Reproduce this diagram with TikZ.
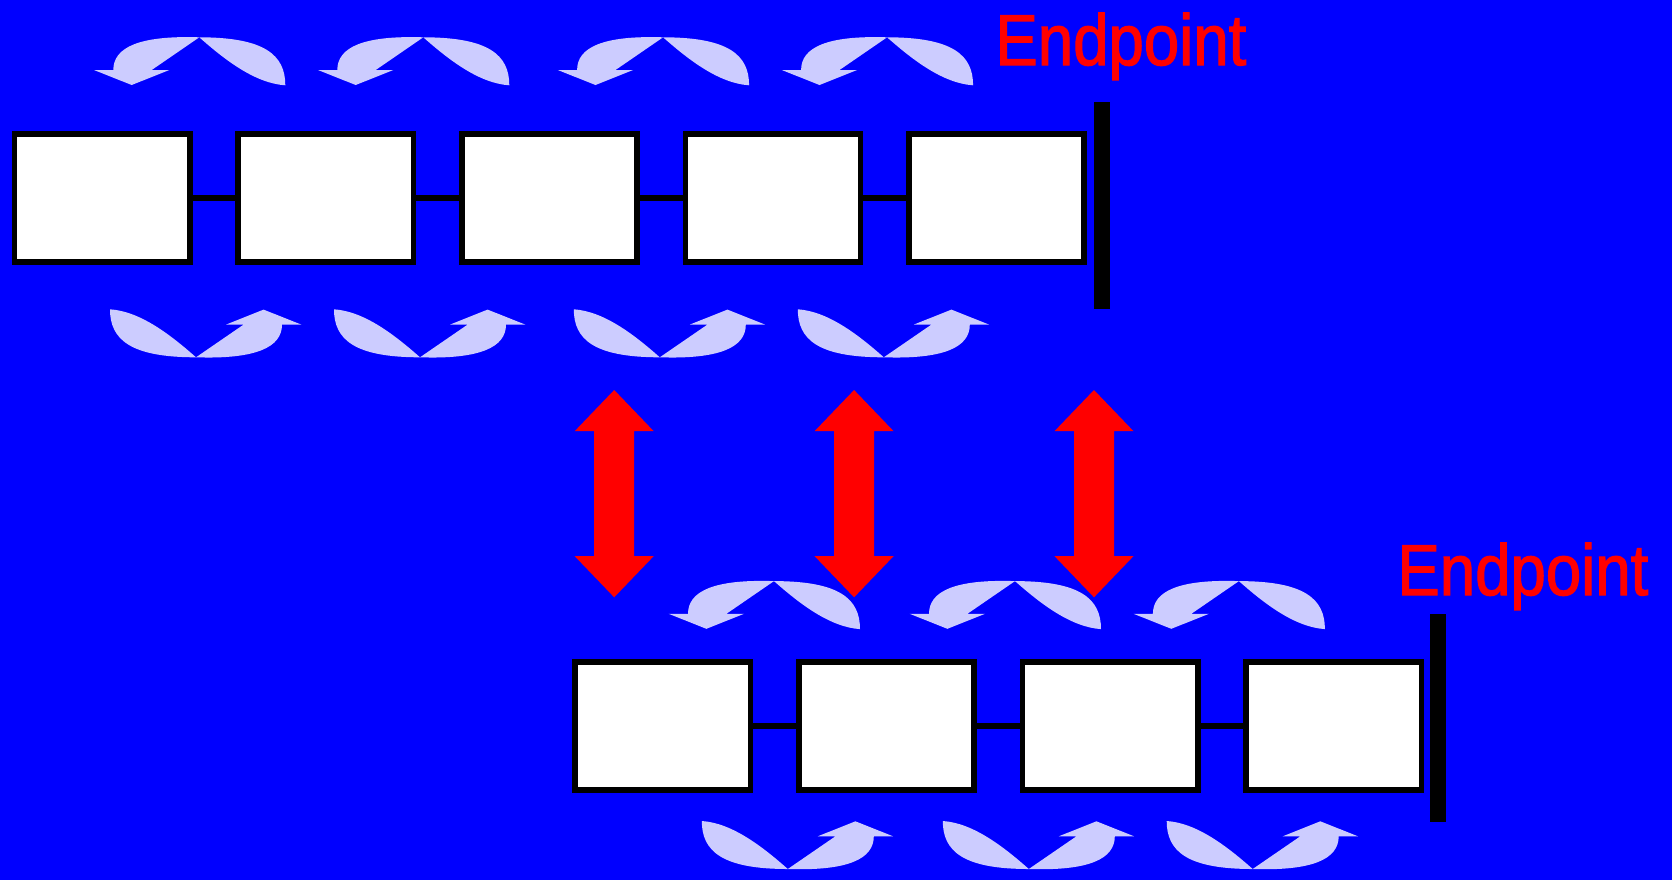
\documentclass[tikz,border=0pt]{standalone}
\usepackage{graphicx}
\usepackage{fontspec}
\setmainfont{Liberation Sans}
\newfontface\endfont{Liberation Sans}[RawFeature={embolden=1.8}]
\definecolor{bg}{RGB}{0,0,255}
\definecolor{lav}{RGB}{204,204,255}
\definecolor{hot}{RGB}{255,0,0}

\tikzset{
  cell/.style={draw=black, fill=white, line width=2.85pt,
               minimum width=87.6pt, minimum height=64.2pt, inner sep=0pt},
  link/.style={draw=black, line width=2.85pt},
  endbar/.style={fill=black},
  endlabel/.style={text=hot, font=\endfont\fontsize{36}{40}\selectfont,
                   inner sep=0pt, anchor=base west},
  % a curved arrow sweeping down-left, paired with a leaf on the right
  pics/swing/.style={code={
    \fill[lav] (0,0) .. controls (-60,-2) and (-86,10) .. (-86,32.7)
       -- (-105.3,32.7) -- (-67.6,47.7) -- (-30,32.7) -- (-47.6,32.7) -- cycle;
    \fill[lav] (0,0) .. controls (66,0) and (86,18) .. (86,48)
       .. controls (56,46) and (26,23) .. (0,0) -- cycle;
  }},
  % thick two-headed vertical arrow
  pics/dbl/.style={code={
    \fill[hot] (0,-103.65) -- (39.5,-62.5) -- (20,-62.5) -- (20,62.5)
       -- (39.5,62.5) -- (0,103.65) -- (-39.5,62.5) -- (-20,62.5)
       -- (-20,-62.5) -- (-39.5,-62.5) -- cycle;
  }},
}

\begin{document}
\begin{tikzpicture}[x=0.5pt, y=-0.5pt]
  \useasboundingbox (0,0) rectangle (1672,880);
  \fill[bg] (0,0) rectangle (1672,880);

  % upper chain
  \foreach \i/\x in {1/102.2, 2/325.8, 3/549.4, 4/773.0, 5/996.6}
    \node[cell] (t\i) at (\x,198) {};
  \foreach \a/\b in {1/2, 2/3, 3/4, 4/5}
    \draw[link] (t\a.east) -- (t\b.west);
  \fill[endbar] (1094,101.7) rectangle (1110,309);
  \node[endlabel] (tend) at (995,65) {\scalebox{0.883}[1]{Endpoint}};

  \foreach \x in {199.3, 423.3, 663.1, 887.1}
    \pic at (\x,37.3) {swing};
  \foreach \x in {196, 420, 659.8, 883.8}
    \pic[rotate=180] at (\x,357.3) {swing};

  % lower chain
  \foreach \i/\x in {1/662.9, 2/886.5, 3/1110.2, 4/1333.8}
    \node[cell] (b\i) at (\x,726) {};
  \foreach \a/\b in {1/2, 2/3, 3/4}
    \draw[link] (b\a.east) -- (b\b.west);
  \fill[endbar] (1430,614) rectangle (1446,821.7);
  \node[endlabel] (bend) at (1397,595) {\scalebox{0.883}[1]{Endpoint}};

  \foreach \x in {774.0, 1015.0, 1238.9}
    \pic at (\x,581.1) {swing};
  \foreach \x in {787.8, 1028.8, 1252.7}
    \pic[rotate=180] at (\x,869.0) {swing};

  % red exchange arrows
  \foreach \x in {614.2, 854.1, 1094.0}
    \pic at (\x,493.65) {dbl};
\end{tikzpicture}
\end{document}
